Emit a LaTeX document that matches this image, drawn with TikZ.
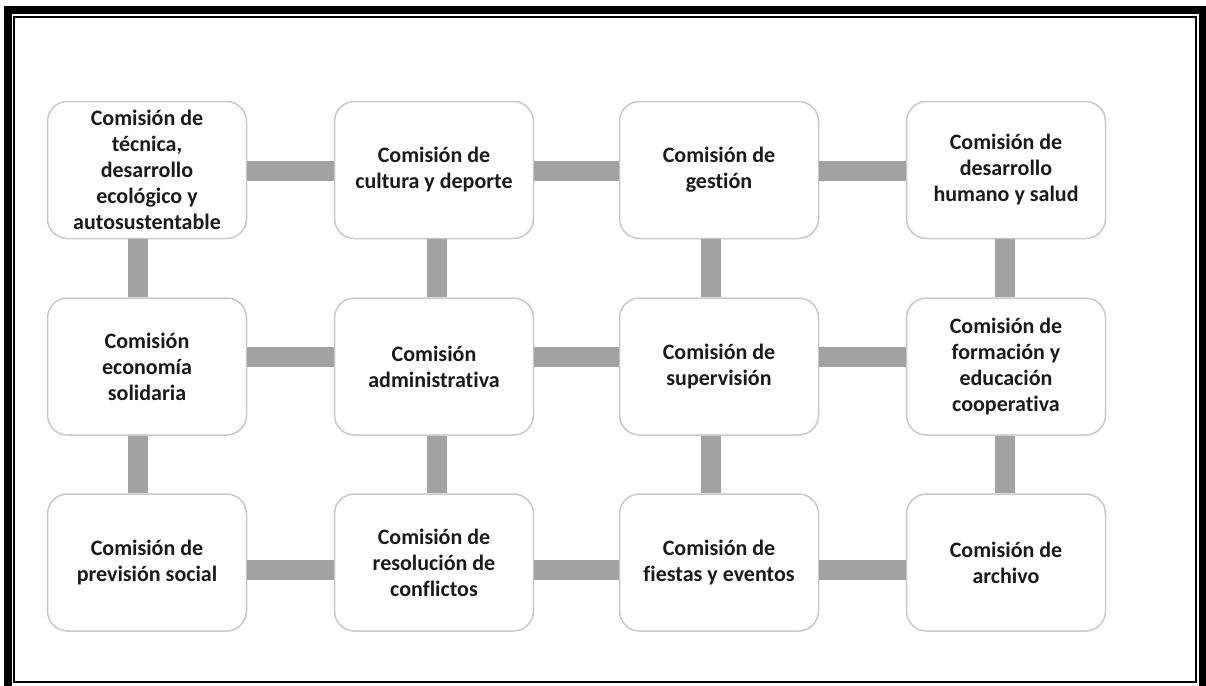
\documentclass[tikz,border=0pt]{standalone}
\usepackage{fontspec}
\setmainfont{Carlito}[Ligatures={NoCommon}]
\usetikzlibrary{calc}
\definecolor{bargray}{HTML}{A2A2A2}
\definecolor{boxline}{HTML}{C8C8C8}
\definecolor{txt}{HTML}{1A1A1A}
\tikzset{
  comm/.style={draw=boxline, line width=1.5pt, fill=white, rounded corners=20pt,
    minimum width=199pt, minimum height=137pt, inner sep=0pt, align=center,
    text=txt, font=\fontsize{22}{26}\selectfont\bfseries},
  bar/.style={draw=bargray, line width=19.5pt, line cap=butt},
}
\begin{document}
\begin{tikzpicture}[x=1pt,y=-1pt]
\useasboundingbox (0,0) rectangle (1206,685);
% frame
\draw[line width=8pt] (7.5,700) -- (7.5,10) -- (1202.5,10) -- (1202.5,700);
\draw[line width=2pt] (14,17) rectangle (1195.5,682);
% nodes
\node[comm] (a1) at (147,170) {Comisión de\\técnica,\\desarrollo\\ecológico y\\autosustentable};
\node[comm] (a2) at (434,170) {Comisión de\\cultura y deporte};
\node[comm] (a3) at (719,170) {Comisión de\\gestión};
\node[comm] (a4) at (1006,170) {Comisión de\\desarrollo\\humano y salud};
\node[comm] (b1) at (147,366.5) {Comisión\\economía\\solidaria};
\node[comm] (b2) at (434,366.5) {Comisión\\administrativa};
\node[comm] (b3) at (719,366.5) {Comisión de\\supervisión};
\node[comm] (b4) at (1006,366.5) {Comisión de\\formación y\\educación\\cooperativa};
\node[comm] (c1) at (147,562.5) {Comisión de\\previsión social};
\node[comm] (c2) at (434,562.5) {Comisión de\\resolución de\\conflictos};
\node[comm] (c3) at (719,562.5) {Comisión de\\fiestas y eventos};
\node[comm] (c4) at (1006,562.5) {Comisión de\\archivo};
% horizontal bars
\foreach \l/\r/\dy in {a1/a2/1, a2/a3/1, a3/a4/1, b1/b2/-9.5, b2/b3/-9.5, b3/b4/-9.5, c1/c2/7.5, c2/c3/7.5, c3/c4/7.5}
  \draw[bar] ($(\l.east)+(0,\dy)$) -- ($(\r.west)+(0,\dy)$);
% vertical bars
\foreach \t/\b/\dx in {a1/b1/-9, b1/c1/-9, a2/b2/3, b2/c2/3, a3/b3/-8, b3/c3/-8, a4/b4/-1, b4/c4/-1}
  \draw[bar] ($(\t.south)+(\dx,0)$) -- ($(\b.north)+(\dx,0)$);
\end{tikzpicture}
\end{document}
